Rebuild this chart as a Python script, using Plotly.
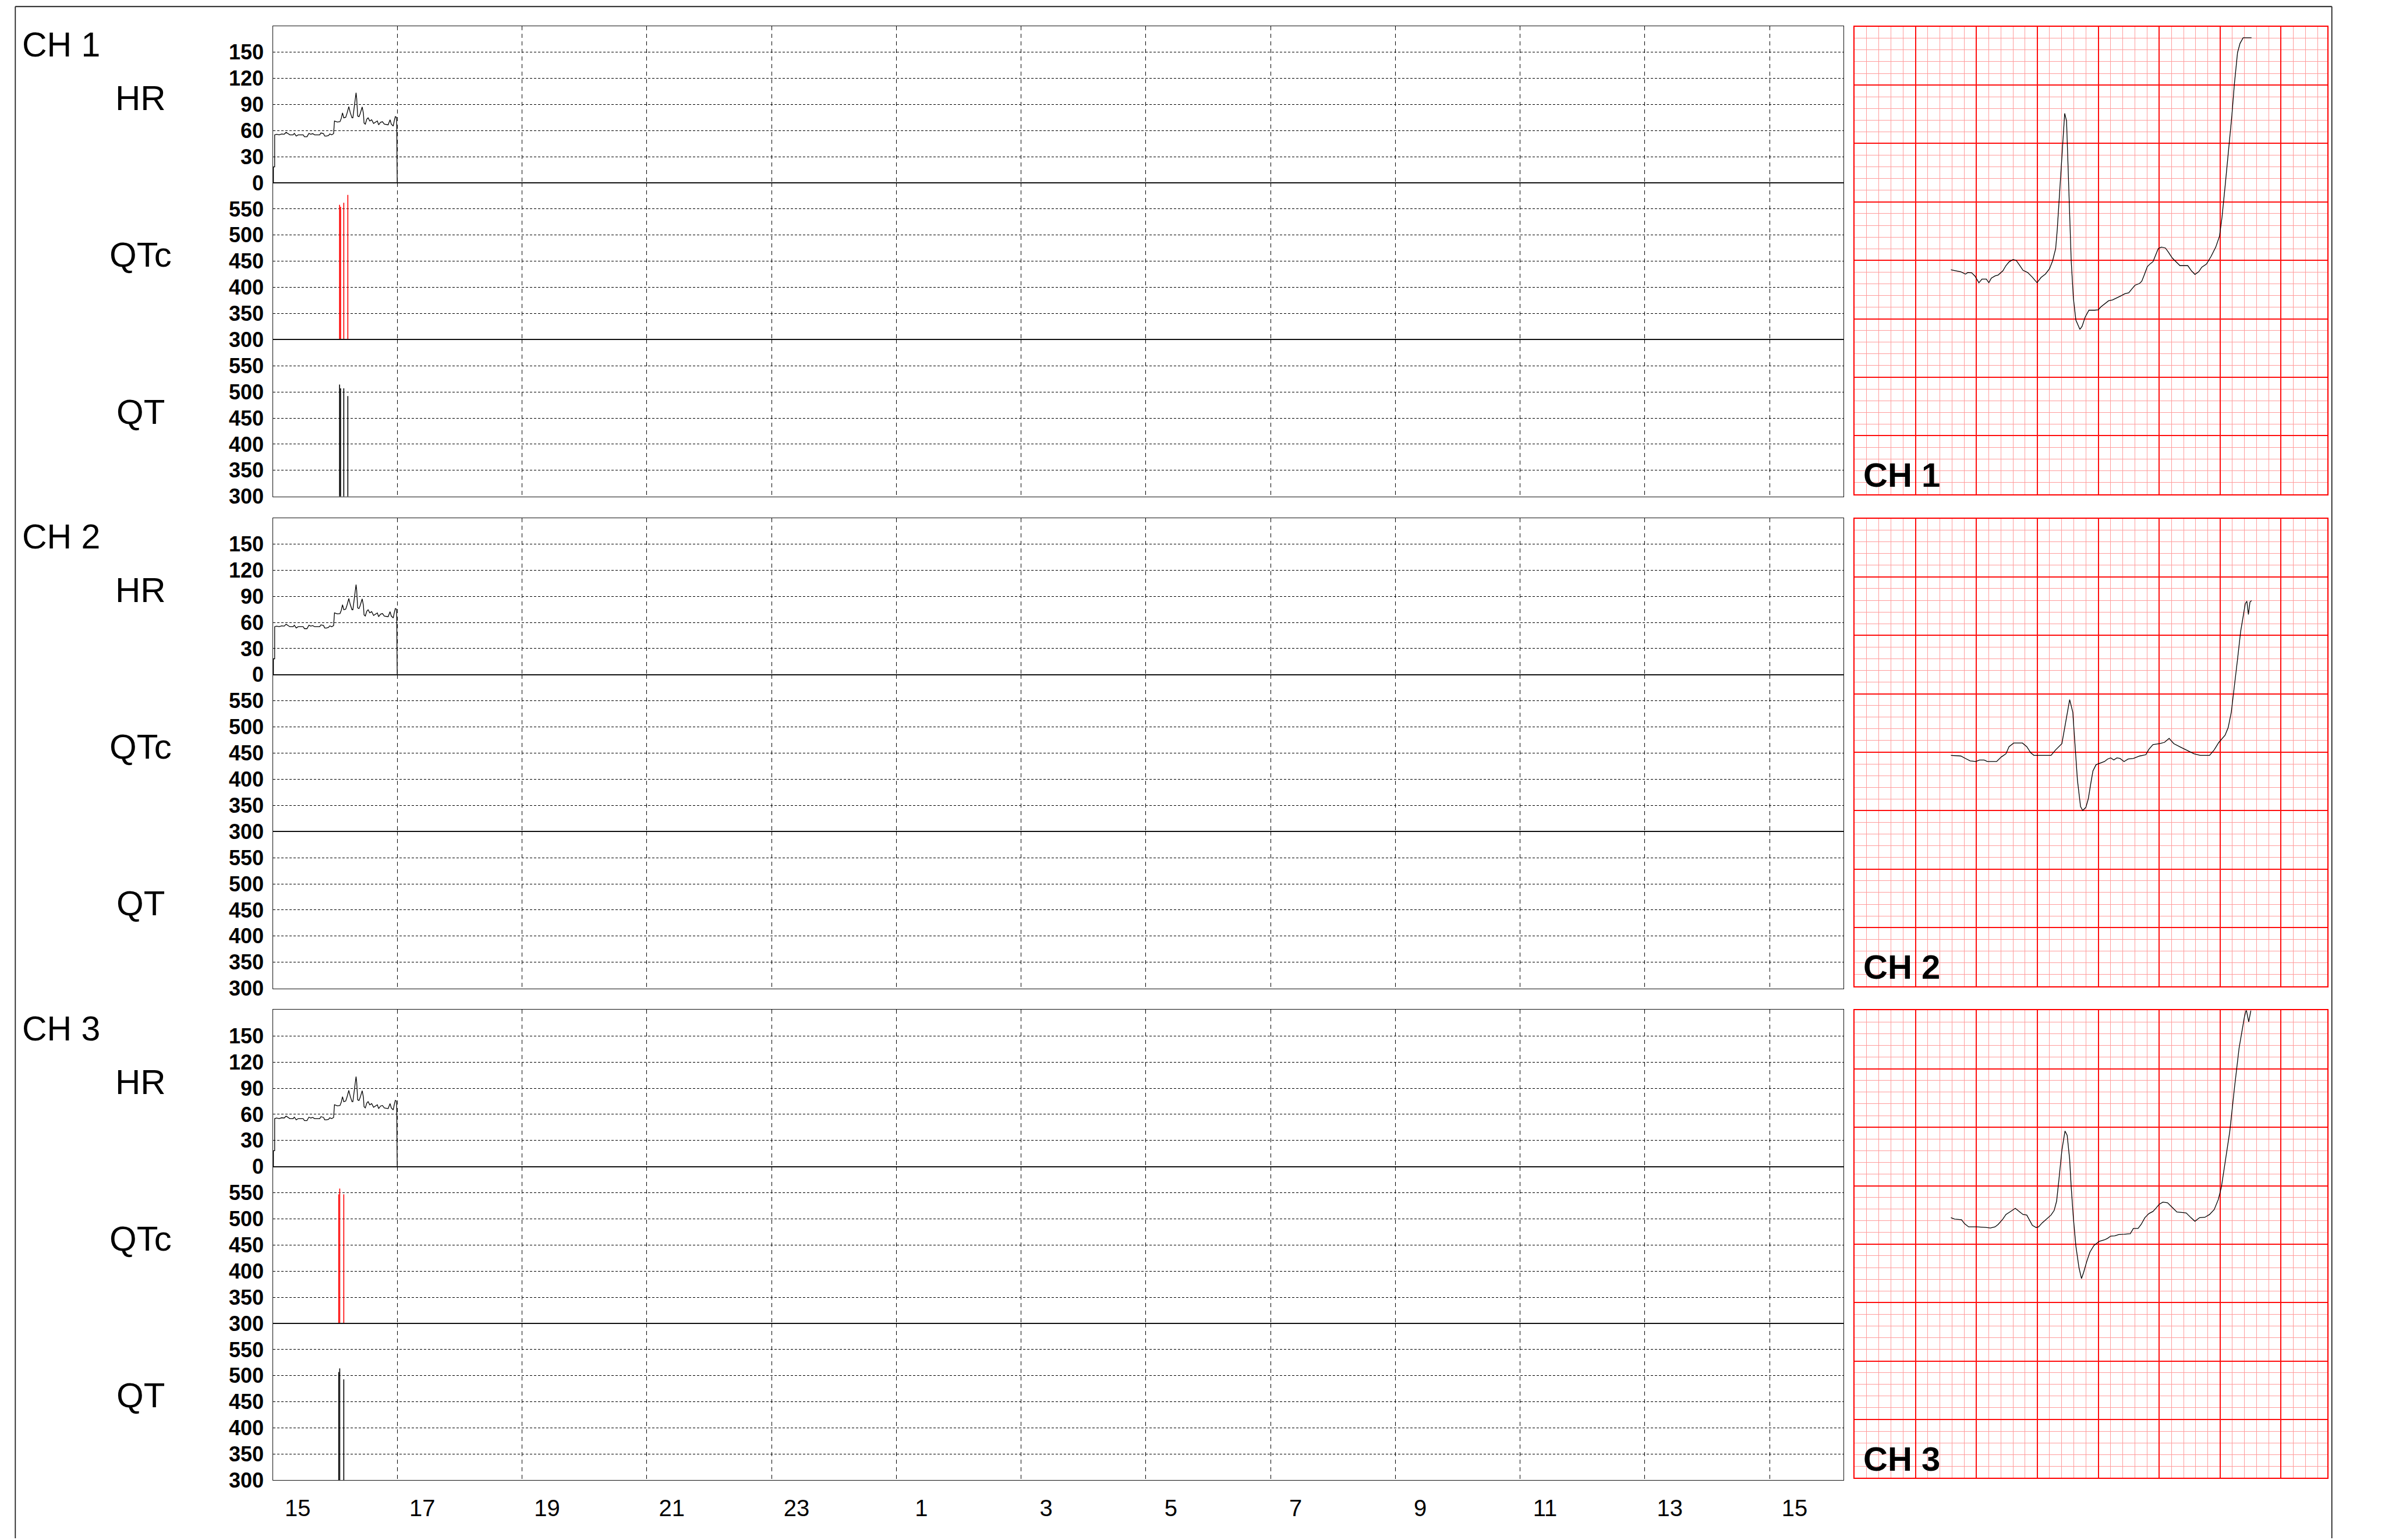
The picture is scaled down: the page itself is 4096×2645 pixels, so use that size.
import plotly.graph_objects as go

W, H = 4096, 2645
FONT = "Liberation Sans, Arial, Helvetica, sans-serif"

# ---------------- time axis (clock hours, >24 = next day) ----------------
HOUR_TICKS = [15, 17, 19, 21, 23, 25, 27, 29, 31, 33, 35, 37, 39]
HOUR_LABELS = ["15", "17", "19", "21", "23", "1", "3", "5", "7", "9", "11", "13", "15"]
GRID_HOURS = [16.6, 18.6, 20.6, 22.6, 24.6, 26.6, 28.6, 30.6, 32.6, 34.6, 36.6, 38.6]
TIME_RANGE = [14.602, 39.78]

HR_TICKS = [0, 30, 60, 90, 120, 150]
HR_RANGE = [0, 180]
QT_TICKS = [300, 350, 400, 450, 500, 550]
QT_RANGE = [300, 600]

CHANNELS = ["CH 1", "CH 2", "CH 3"]
PARAMS = ["HR", "QTc", "QT"]

# ---------------- heart-rate trend (same for all channels) ----------------
HR_T = [14.612, 14.612, 14.632, 14.632, 14.663, 14.703, 14.744, 14.785, 14.815, 14.846,
        14.876, 14.927, 14.947, 14.978, 15.008, 15.049, 15.089, 15.110, 15.150, 15.181,
        15.211, 15.242, 15.272, 15.354, 15.374, 15.415, 15.435, 15.465, 15.496, 15.516,
        15.547, 15.577, 15.591, 15.638, 15.679, 15.699, 15.720, 15.740, 15.771, 15.791,
        15.821, 15.842, 15.872, 15.886, 15.907, 15.927, 15.937, 15.947, 15.963, 15.984,
        16.004, 16.035, 16.055, 16.065, 16.085, 16.110, 16.130, 16.157, 16.187, 16.218,
        16.248, 16.278, 16.299, 16.329, 16.360, 16.390, 16.451, 16.482, 16.502, 16.533,
        16.553, 16.567, 16.584, 16.590, 16.593, 16.597]
HR_V = [0, 18.3, 18.3, 55.1, 55.8, 55.1, 56.1, 55.8, 58.0, 56.5,
        55.1, 55.1, 56.8, 53.7, 55.1, 55.1, 55.1, 52.9, 52.9, 56.8,
        55.8, 56.5, 55.1, 55.1, 57.3, 56.5, 53.7, 53.7, 54.4, 56.1,
        55.1, 56.5, 71.0, 69.8, 70.2, 73.8, 80.3, 74.6, 75.3, 79.6,
        87.5, 81.1, 74.6, 74.6, 88.3, 96.9, 103.4, 96.9, 76.7, 76.0,
        79.6, 87.1, 79.6, 68.8, 67.4, 73.1, 74.6, 71.0, 72.4, 68.1,
        69.5, 71.0, 66.6, 69.5, 70.2, 67.4, 66.6, 72.4, 67.4, 65.2,
        72.4, 76.0, 75.3, 65.2, 34.2, 0]

# ---------------- QTc / QT measurements ----------------
QTC_CH1_T = [15.673, 15.689, 15.740, 15.805]
QTC_CH1_V = [558, 554, 562, 577]
QT_CH1_T = [15.673, 15.689, 15.740, 15.805]
QT_CH1_V = [514, 507, 507, 492]

QTC_CH2_T = []
QTC_CH2_V = []
QT_CH2_T = []
QT_CH2_V = []

QTC_CH3_T = [15.659, 15.675, 15.740]
QTC_CH3_V = [547, 558, 547]
QT_CH3_T = [15.659, 15.675, 15.740]
QT_CH3_V = [507, 514, 493]

# ---------------- ECG strips (mm on the paper grid) ----------------
ECG_X_RANGE = [0, 38.8]
ECG_Y_RANGE = [0, 40]

ECG1_X = [7.908, 8.342, 8.724, 9.107, 9.286, 9.617, 9.872, 10.204, 10.459, 10.816,
          11.020, 11.224, 11.531, 11.786, 12.168, 12.423, 12.679, 13.010, 13.265, 13.571,
          13.827, 14.209, 14.592, 14.974, 15.306, 15.663, 15.995, 16.250, 16.505, 16.633,
          16.837, 17.066, 17.245, 17.398, 17.525, 17.653, 17.780, 17.959, 18.163, 18.495,
          18.673, 18.928, 19.235, 19.694, 20.000, 20.204, 20.510, 20.842, 21.173, 21.479,
          21.862, 22.194, 22.500, 22.755, 23.010, 23.393, 23.571, 23.775, 24.031, 24.286,
          24.490, 24.668, 24.923, 25.178, 25.510, 25.765, 26.071, 26.378, 26.709, 27.347,
          27.653, 27.934, 28.240, 28.495, 28.878, 29.260, 29.643, 29.949, 30.153, 30.408,
          30.714, 30.969, 31.173, 31.428, 31.633, 31.888, 32.577]
ECG1_Y = [19.20, 19.10, 19.02, 18.83, 18.96, 18.94, 18.67, 18.09, 18.40, 18.40,
          18.09, 18.48, 18.67, 18.75, 19.10, 19.55, 19.87, 20.08, 20.00, 19.55,
          19.15, 18.96, 18.56, 18.09, 18.54, 18.83, 19.28, 19.95, 21.01, 22.61,
          25.80, 29.52, 32.58, 31.92, 27.93, 24.73, 19.95, 16.76, 14.89, 14.10,
          14.36, 15.16, 15.74, 15.74, 15.77, 16.01, 16.28, 16.54, 16.62, 16.76,
          16.97, 17.15, 17.23, 17.55, 17.87, 18.03, 18.22, 18.75, 19.47, 19.73,
          19.89, 20.35, 21.01, 21.14, 21.06, 20.69, 20.21, 19.89, 19.55, 19.55,
          19.10, 18.80, 19.02, 19.42, 19.68, 20.35, 21.14, 22.07, 23.67, 26.33,
          29.52, 32.45, 35.11, 37.77, 38.56, 39.04, 39.04]

ECG2_X = [7.908, 8.724, 9.107, 9.490, 9.949, 10.255, 10.638, 10.893, 11.658, 12.041,
          12.423, 12.679, 13.061, 13.776, 14.133, 14.464, 14.719, 16.122, 16.505, 17.015,
          17.347, 17.653, 17.908, 18.112, 18.291, 18.546, 18.724, 18.980, 19.184, 19.388,
          19.566, 19.821, 20.204, 20.510, 20.765, 21.020, 21.276, 21.531, 21.786, 22.117,
          22.449, 22.883, 23.393, 23.903, 24.158, 24.490, 25.051, 25.434, 25.816, 26.199,
          26.837, 27.219, 27.602, 27.857, 28.367, 29.133, 29.515, 29.898, 30.408, 30.663,
          30.918, 31.173, 31.428, 31.684, 31.888, 32.066, 32.194, 32.321, 32.449, 32.577]
ECG2_Y = [19.74, 19.68, 19.47, 19.26, 19.21, 19.34, 19.34, 19.21, 19.21, 19.60,
          19.87, 20.48, 20.79, 20.79, 20.48, 19.95, 19.74, 19.74, 20.21, 20.74,
          22.70, 24.50, 23.44, 20.26, 17.62, 15.36, 15.02, 15.28, 16.03, 17.35,
          18.41, 18.94, 19.07, 19.21, 19.42, 19.52, 19.34, 19.52, 19.47, 19.21,
          19.42, 19.47, 19.68, 19.79, 20.26, 20.66, 20.74, 20.85, 21.19, 20.74,
          20.40, 20.21, 20.00, 19.87, 19.74, 19.74, 20.21, 20.85, 21.46, 22.12,
          23.44, 25.56, 27.95, 30.33, 31.66, 32.72, 32.93, 31.79, 32.85, 32.98]

ECG3_X = [7.908, 8.214, 8.776, 9.031, 9.362, 10.000, 10.765, 11.148, 11.531, 11.786,
          12.168, 12.423, 12.806, 13.189, 13.571, 13.827, 14.133, 14.337, 14.592, 14.898,
          15.102, 15.408, 15.740, 16.122, 16.378, 16.582, 16.760, 17.015, 17.270, 17.449,
          17.653, 17.780, 17.959, 18.163, 18.418, 18.622, 18.801, 19.056, 19.311, 19.643,
          20.077, 20.510, 20.765, 21.020, 21.352, 21.684, 22.117, 22.628, 22.883, 23.265,
          23.520, 23.827, 24.158, 24.490, 24.745, 25.000, 25.306, 25.689, 26.071, 26.454,
          26.964, 27.219, 27.602, 27.934, 28.316, 28.750, 29.133, 29.515, 29.847, 30.102,
          30.408, 30.791, 31.173, 31.556, 31.990, 32.143, 32.347, 32.526]
ECG3_Y = [22.27, 22.14, 22.09, 21.75, 21.48, 21.48, 21.43, 21.38, 21.48, 21.69,
          22.14, 22.54, 22.80, 23.07, 22.75, 22.54, 22.49, 22.09, 21.61, 21.43,
          21.48, 21.83, 22.14, 22.49, 22.88, 23.68, 25.40, 28.04, 29.68, 29.31,
          27.25, 24.87, 22.22, 19.84, 17.99, 17.06, 17.59, 18.52, 19.31, 19.89,
          20.24, 20.37, 20.50, 20.69, 20.71, 20.82, 20.85, 20.90, 21.35, 21.35,
          21.69, 22.27, 22.62, 22.80, 23.09, 23.41, 23.60, 23.54, 23.15, 22.75,
          22.70, 22.67, 22.27, 21.96, 22.27, 22.30, 22.54, 22.96, 23.81, 24.87,
          26.98, 29.63, 33.33, 36.77, 39.42, 40.08, 39.02, 40.00]

QTC_T = [QTC_CH1_T, QTC_CH2_T, QTC_CH3_T]
QTC_V = [QTC_CH1_V, QTC_CH2_V, QTC_CH3_V]
QT_T = [QT_CH1_T, QT_CH2_T, QT_CH3_T]
QT_V = [QT_CH1_V, QT_CH2_V, QT_CH3_V]
ECG_X = [ECG1_X, ECG2_X, ECG3_X]
ECG_Y = [ECG1_Y, ECG2_Y, ECG3_Y]

# ---------------- layout geometry (output pixels) ----------------
LEFT_X0, LEFT_X1 = 460.5, 3157.5
ECG_X0, ECG_X1 = 3177.0, 3989.0
CH_TOP0, CH_STEP, SUB_H, ECG_H = 37.0, 851.6, 271.5, 809.5
FRAME_L, FRAME_T, FRAME_R = 18.3, 3.3, 3996.7


def fx(p):
    return p / W


def fy(p):
    return 1 - p / H


def stems(ts, vs, base):
    xs, ys = [], []
    for t, v in zip(ts, vs):
        xs += [t, t, None]
        ys += [base, v, None]
    return xs, ys


def ax_name(kind, idx):
    return kind + ("" if idx == 1 else str(idx))


fig = go.Figure()
layout = {}
annotations = []

for c in range(3):
    top = CH_TOP0 + c * CH_STEP
    for s in range(3):
        idx = c * 3 + s + 1
        y0 = top + s * SUB_H
        y1 = y0 + SUB_H
        xa, ya = ax_name("x", idx), ax_name("y", idx)
        layout[ax_name("xaxis", idx)] = dict(
            domain=[fx(LEFT_X0), fx(LEFT_X1)], range=TIME_RANGE, anchor=ya,
            showline=True, linecolor="#111111", linewidth=1.3, mirror=True,
            ticks="", tickmode="array", tickvals=HOUR_TICKS, ticktext=HOUR_LABELS,
            showticklabels=(idx == 9), showgrid=False, zeroline=False,
            tickfont=dict(size=40, family=FONT, color="black"),
            ticklabelstandoff=12,
            minor=dict(tickmode="array", tickvals=GRID_HOURS, showgrid=True,
                       gridcolor="black", gridwidth=1.3, griddash="7px,6px", ticks=""),
            fixedrange=True,
        )
        if s == 0:
            rng, tv = HR_RANGE, HR_TICKS
        else:
            rng, tv = QT_RANGE, QT_TICKS
        layout[ax_name("yaxis", idx)] = dict(
            domain=[fy(y1), fy(y0)], range=rng, anchor=xa,
            showline=True, linecolor="#111111", linewidth=1.3, mirror=True,
            ticks="", tickmode="array", tickvals=tv,
            showgrid=True, gridcolor="black", gridwidth=1.3, griddash="4px,3px",
            zeroline=False, ticklabelstandoff=7,
            tickfont=dict(size=36, family=FONT, color="black", weight="bold"),
            fixedrange=True,
        )
        if s == 0:
            fig.add_trace(go.Scatter(x=HR_T, y=HR_V, mode="lines", xaxis=xa, yaxis=ya,
                                     line=dict(color="black", width=1.3), hoverinfo="skip"))
        elif s == 1:
            xs, ys = stems(QTC_T[c], QTC_V[c], QT_RANGE[0])
            fig.add_trace(go.Scatter(x=xs if xs else [None], y=ys if ys else [None],
                                     mode="lines", xaxis=xa, yaxis=ya,
                                     line=dict(color="#ff0000", width=1.6), hoverinfo="skip"))
        else:
            xs, ys = stems(QT_T[c], QT_V[c], QT_RANGE[0])
            fig.add_trace(go.Scatter(x=xs if xs else [None], y=ys if ys else [None],
                                     mode="lines", xaxis=xa, yaxis=ya,
                                     line=dict(color="black", width=1.6), hoverinfo="skip"))
        annotations.append(dict(
            text=PARAMS[s], x=fx(233), y=fy((y0 + y1) / 2 - 11), xref="paper", yref="paper",
            xanchor="center", yanchor="middle", showarrow=False,
            font=dict(size=60, family=FONT, color="black")))

    annotations.append(dict(
        text=CHANNELS[c], x=fx(28), y=fy(top + 33), xref="paper", yref="paper",
        xanchor="left", yanchor="middle", showarrow=False,
        font=dict(size=59, family=FONT, color="black")))

    # ECG strip
    idx = 10 + c
    xa, ya = ax_name("x", idx), ax_name("y", idx)
    e0, e1 = top + 1.0, top + 1.0 + ECG_H
    layout[ax_name("xaxis", idx)] = dict(
        domain=[fx(ECG_X0), fx(ECG_X1)], range=ECG_X_RANGE, anchor=ya,
        showline=True, linecolor="#ff0000", linewidth=1.8, mirror=True,
        ticks="", showticklabels=False, tick0=0, dtick=5,
        showgrid=True, gridcolor="#ff1010", gridwidth=1.5, zeroline=False,
        minor=dict(tick0=0, dtick=1, showgrid=True, gridcolor="#ff9c9c", gridwidth=1.1, ticks=""),
        fixedrange=True,
    )
    layout[ax_name("yaxis", idx)] = dict(
        domain=[fy(e1), fy(e0)], range=ECG_Y_RANGE, anchor=xa,
        showline=True, linecolor="#ff0000", linewidth=1.8, mirror=True,
        ticks="", showticklabels=False, tick0=0, dtick=5,
        showgrid=True, gridcolor="#ff1010", gridwidth=1.5, zeroline=False,
        minor=dict(tick0=0, dtick=1, showgrid=True, gridcolor="#ff9c9c", gridwidth=1.1, ticks=""),
        fixedrange=True,
    )
    fig.add_trace(go.Scatter(x=ECG_X[c], y=ECG_Y[c], mode="lines", xaxis=xa, yaxis=ya,
                             line=dict(color="black", width=1.3), hoverinfo="skip"))
    annotations.append(dict(
        text="<b>" + CHANNELS[c] + "</b>", x=fx(3190), y=fy(top + 777), xref="paper", yref="paper",
        xanchor="left", yanchor="middle", showarrow=False,
        font=dict(size=58, family=FONT, color="black")))

shapes = [
    dict(type="line", xref="paper", yref="paper", x0=fx(FRAME_L), x1=fx(FRAME_L),
         y0=fy(FRAME_T), y1=fy(H + 10), line=dict(color="#222222", width=1.8)),
    dict(type="line", xref="paper", yref="paper", x0=fx(FRAME_L), x1=fx(FRAME_R),
         y0=fy(FRAME_T), y1=fy(FRAME_T), line=dict(color="#222222", width=1.8)),
    dict(type="line", xref="paper", yref="paper", x0=fx(FRAME_R), x1=fx(FRAME_R),
         y0=fy(FRAME_T), y1=fy(H + 10), line=dict(color="#222222", width=1.8)),
]

fig.update_layout(
    width=W, height=H, autosize=False,
    margin=dict(l=0, r=0, t=0, b=0),
    paper_bgcolor="white", plot_bgcolor="white",
    showlegend=False,
    font=dict(family=FONT, color="black"),
    annotations=annotations, shapes=shapes,
    **layout,
)

fig.write_html("out.html")
